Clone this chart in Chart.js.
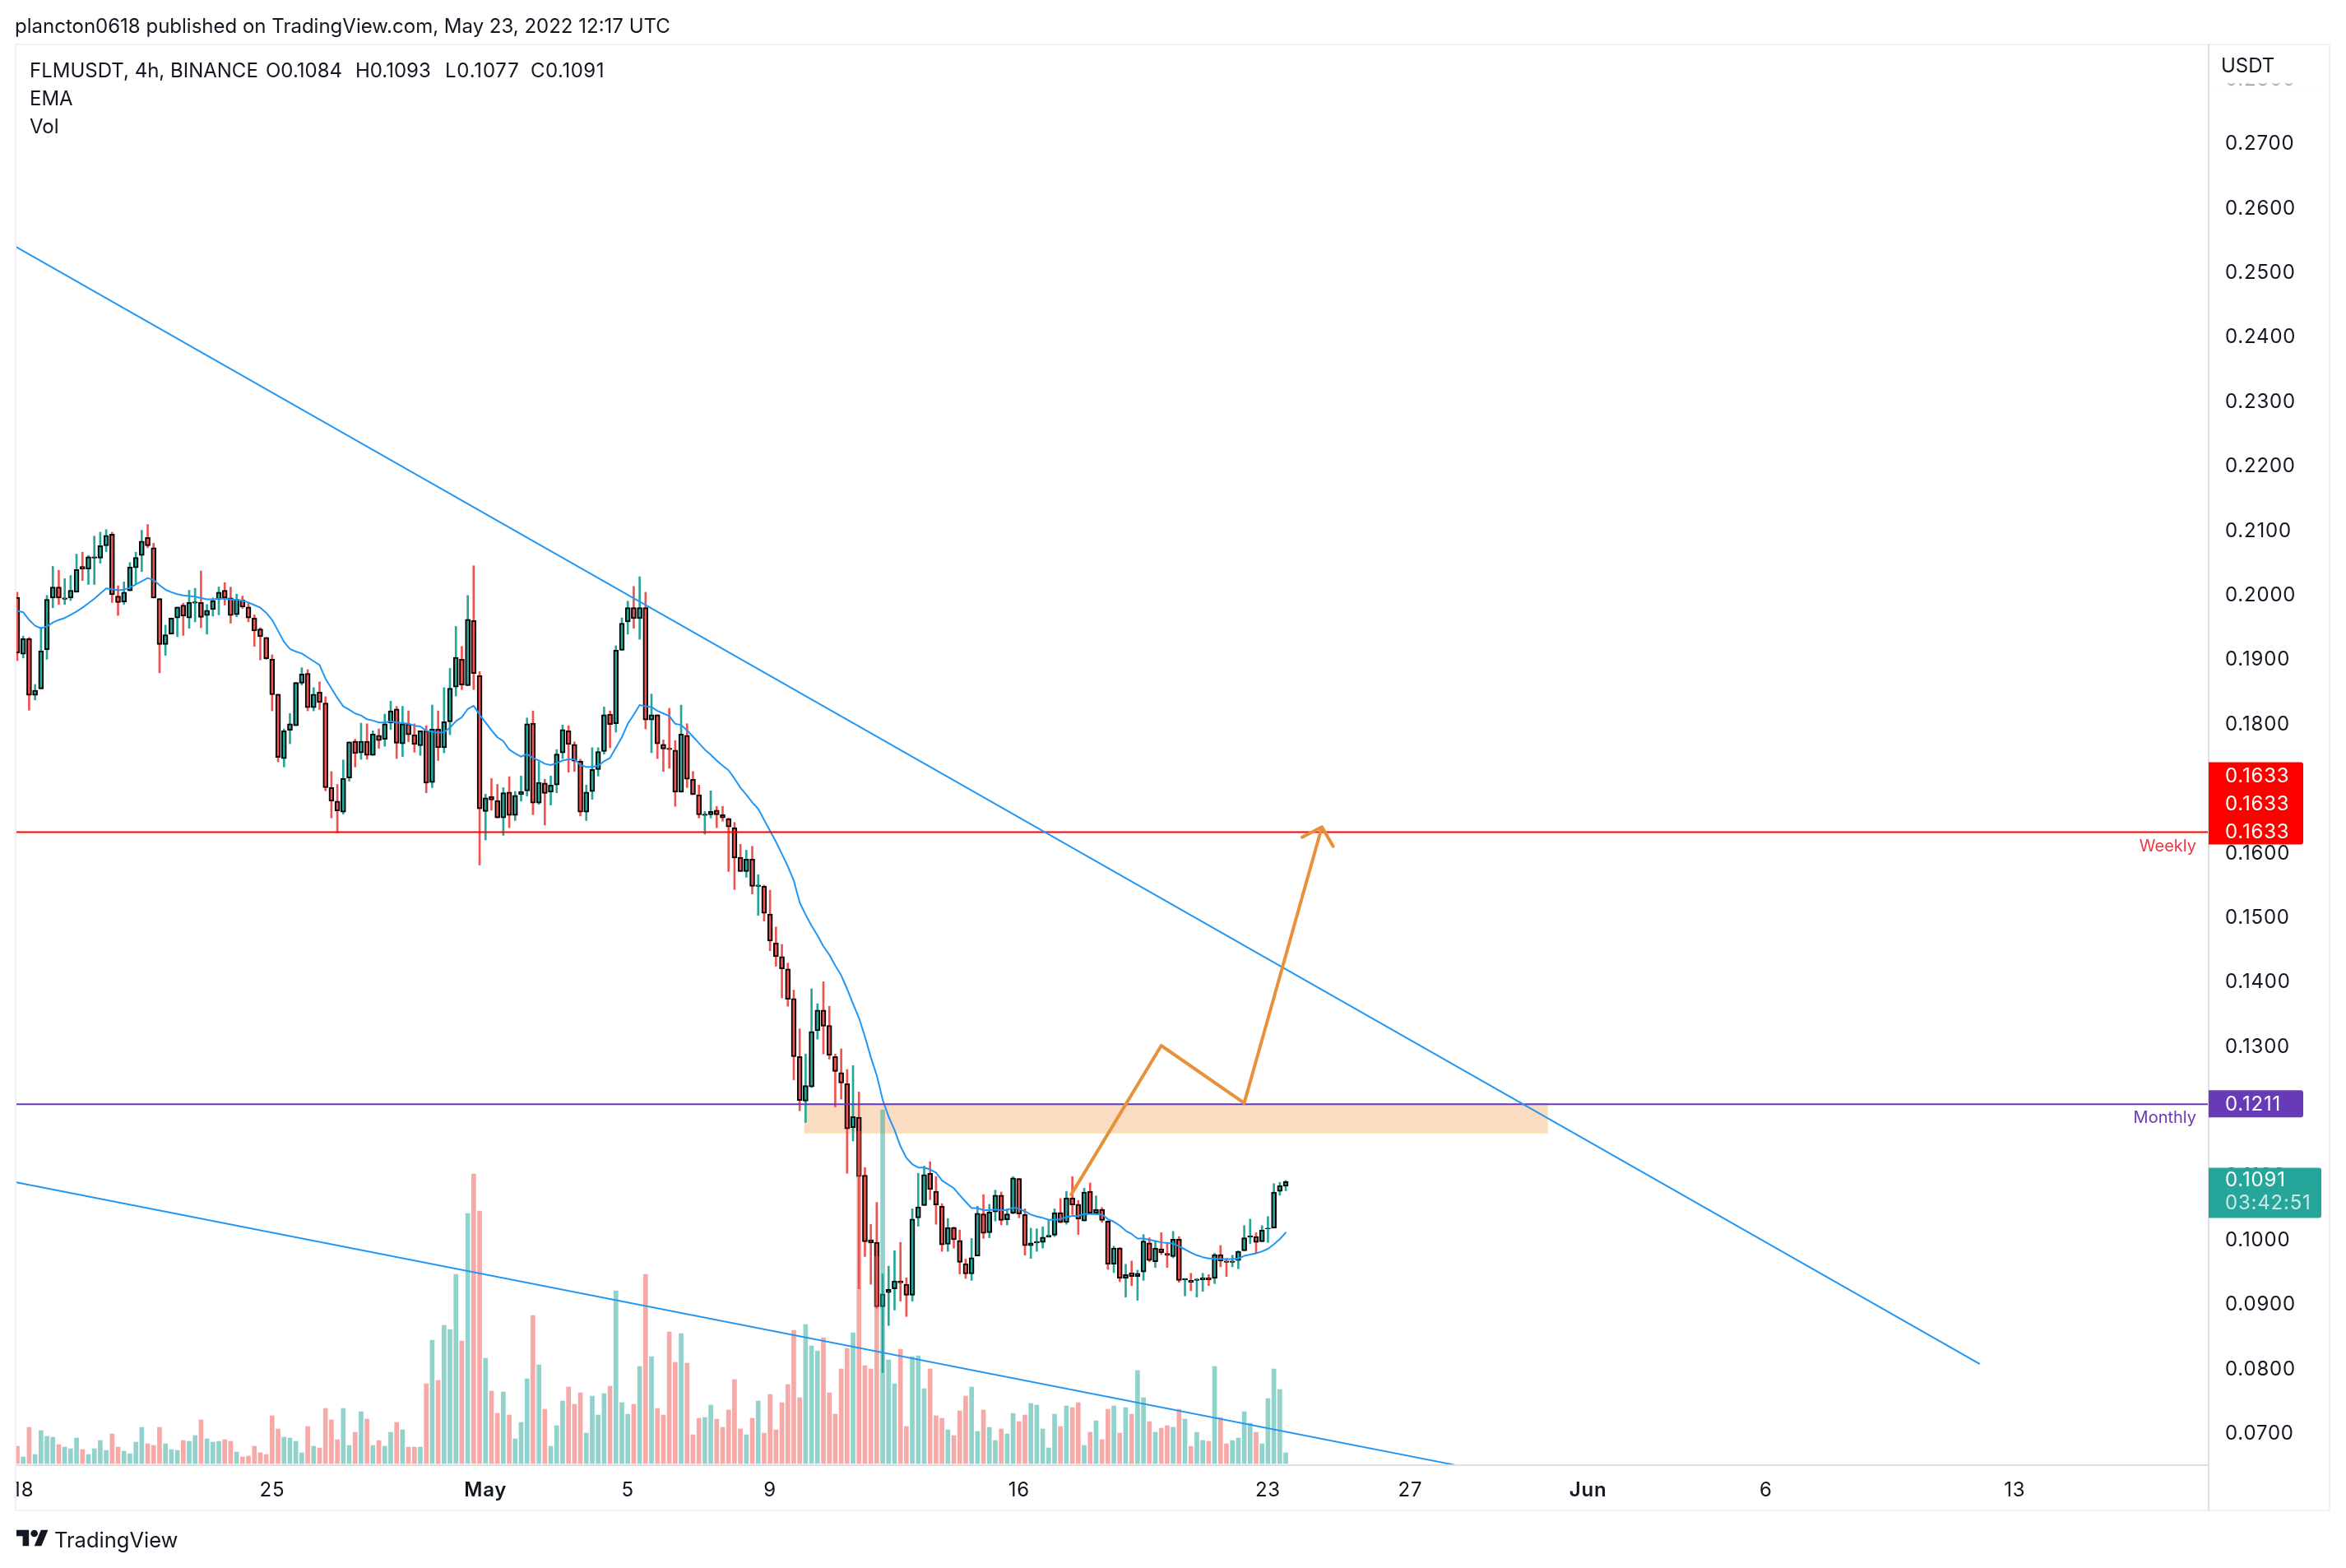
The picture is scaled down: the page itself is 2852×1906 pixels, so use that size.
<!DOCTYPE html>
<html>
<head>
<meta charset="utf-8">
<title>FLMUSDT 4h</title>
<script src="https://cdn.jsdelivr.net/npm/chart.js@4"></script>
<style>
  html, body { margin: 0; padding: 0; background: #fff; }
  #wrap { position: relative; width: 2852px; height: 1906px; overflow: hidden; color: #131722; font-family: Inter, sans-serif; font-size: 24px; }
  #wrap canvas { position: absolute; left: 0; top: 0; }
  .txt { position: absolute; white-space: pre; line-height: 30px; }
</style>
</head>
<body>
<div id="wrap">
  <canvas id="flmChart" width="2852" height="1906"></canvas>
  <div class="txt" style="left:18px;top:17px">plancton0618 published on TradingView.com, May 23, 2022 12:17 UTC</div>
  <div class="txt" style="left:36px;top:71px">FLMUSDT, 4h, BINANCE</div>
  <div class="txt" style="left:323px;top:71px">O0.1084</div>
  <div class="txt" style="left:432px;top:71px">H0.1093</div>
  <div class="txt" style="left:541px;top:71px;letter-spacing:0.8px">L0.1077</div>
  <div class="txt" style="left:645px;top:71px;letter-spacing:0.5px">C0.1091</div>
  <div class="txt" style="left:36px;top:105px">EMA</div>
  <div class="txt" style="left:36px;top:139px">Vol</div>
  <svg style="position:absolute;left:20px;top:1855px" width="39" height="31" viewBox="0 0 36 28" fill="#131722">
    <path d="M14 22H7V11H0V4h14v18zM28 22h-8l7.5-18h8L28 22z"></path><circle cx="20" cy="8" r="4"></circle>
  </svg>
  <div class="txt" style="left:66px;top:1857px;font-size:25.5px">TradingView</div>
</div>
<script>
// Candles, one entry per 4h bar
const open = [
  0.1997,0.1909,0.1933,0.1845,0.1855,0.1916,0.1996,0.2013,0.1994,0.1996,
  0.2005,0.2045,0.2041,0.2058,0.2058,0.2077,0.2095,0.1999,0.1990,0.2007,
  0.2043,0.2062,0.2090,0.2074,0.1995,0.1924,0.1940,0.1965,0.1985,0.1965,
  0.1988,0.1989,0.1969,0.1978,0.1994,0.2008,0.1996,0.1970,0.1993,0.1982,
  0.1965,0.1948,0.1935,0.1901,0.1847,0.1747,0.1791,0.1798,0.1864,0.1879,
  0.1826,0.1850,0.1833,0.1702,0.1681,0.1664,0.1717,0.1774,0.1756,0.1774,
  0.1752,0.1783,0.1777,0.1802,0.1824,0.1770,0.1801,0.1784,0.1767,0.1790,
  0.1710,0.1793,0.1764,0.1804,0.1858,0.1901,0.1860,0.1961,0.1876,0.1665,
  0.1688,0.1682,0.1655,0.1695,0.1659,0.1691,0.1697,0.1802,0.1678,0.1709,
  0.1695,0.1706,0.1756,0.1790,0.1769,0.1743,0.1664,0.1696,0.1730,0.1758,
  0.1816,0.1801,0.1915,0.1959,0.1981,0.1964,0.1981,0.1807,0.1815,0.1769,
  0.1763,0.1760,0.1695,0.1783,0.1715,0.1691,0.1659,0.1660,0.1667,0.1660,
  0.1654,0.1640,0.1594,0.1572,0.1591,0.1549,0.1549,0.1506,0.1461,0.1440,
  0.1421,0.1375,0.1285,0.1216,0.1238,0.1325,0.1357,0.1333,0.1285,0.1260,
  0.1243,0.1175,0.1191,0.1101,0.1001,0.0997,0.0897,0.0919,0.0925,0.0937,
  0.0932,0.0915,0.1035,0.1054,0.1104,0.1076,0.1053,0.0994,0.1020,0.1000,
  0.0964,0.0948,0.0976,0.1041,0.1012,0.1044,0.1070,0.1032,0.1042,0.1096,
  0.1040,0.0992,0.0996,0.0997,0.1005,0.1008,0.1043,0.1028,0.1066,0.1056,
  0.1030,0.1076,0.1042,0.1048,0.1030,0.0963,0.0988,0.0941,0.0950,0.0944,
  0.0951,0.0996,0.0967,0.0987,0.0980,0.0975,0.1002,0.0939,0.0938,0.0938,
  0.0939,0.0942,0.0941,0.0978,0.0968,0.0966,0.0969,0.0984,0.1005,0.1006,
  0.0998,0.1018,0.1019,0.1076,0.1084
];
const high = [
  0.2005,0.1937,0.1935,0.1862,0.1951,0.2000,0.2045,0.2039,0.2026,0.2031,
  0.2064,0.2067,0.2062,0.2092,0.2098,0.2102,0.2098,0.2015,0.2021,0.2051,
  0.2067,0.2101,0.2110,0.2081,0.1995,0.1954,0.1965,0.1982,0.1988,0.2008,
  0.2011,0.2038,0.1986,0.1996,0.2013,0.2020,0.2013,0.2002,0.1999,0.1989,
  0.1970,0.1950,0.1935,0.1908,0.1847,0.1793,0.1817,0.1865,0.1888,0.1885,
  0.1857,0.1866,0.1843,0.1727,0.1707,0.1745,0.1773,0.1777,0.1802,0.1801,
  0.1790,0.1793,0.1816,0.1836,0.1828,0.1828,0.1821,0.1801,0.1790,0.1798,
  0.1830,0.1821,0.1857,0.1887,0.1952,0.1921,0.2000,0.2046,0.1882,0.1692,
  0.1716,0.1707,0.1702,0.1719,0.1696,0.1720,0.1810,0.1821,0.1742,0.1715,
  0.1720,0.1761,0.1799,0.1798,0.1773,0.1746,0.1706,0.1764,0.1764,0.1827,
  0.1821,0.1922,0.1965,0.1991,0.2014,0.2029,0.2005,0.1847,0.1815,0.1776,
  0.1825,0.1775,0.1830,0.1801,0.1727,0.1706,0.1665,0.1697,0.1673,0.1673,
  0.1655,0.1648,0.1614,0.1605,0.1611,0.1567,0.1551,0.1543,0.1486,0.1459,
  0.1430,0.1388,0.1328,0.1289,0.1390,0.1367,0.1401,0.1363,0.1289,0.1297,
  0.1265,0.1271,0.1230,0.1113,0.1025,0.1059,0.0948,0.0960,0.0984,0.0997,
  0.0942,0.1049,0.1104,0.1115,0.1122,0.1099,0.1057,0.1034,0.1021,0.1016,
  0.0971,0.1003,0.1053,0.1071,0.1056,0.1078,0.1075,0.1049,0.1099,0.1096,
  0.1049,0.1019,0.1018,0.1021,0.1031,0.1049,0.1065,0.1076,0.1099,0.1062,
  0.1081,0.1089,0.1069,0.1051,0.1031,0.0991,0.0989,0.0963,0.0968,0.0954,
  0.1009,0.1004,0.0998,0.1012,0.0997,0.1014,0.1006,0.0941,0.0949,0.0941,
  0.0949,0.0947,0.0980,0.0992,0.0972,0.0977,0.0984,0.1023,0.1033,0.1012,
  0.1023,0.1037,0.1088,0.1090,0.1093
];
const low = [
  0.1899,0.1903,0.1822,0.1838,0.1855,0.1901,0.1981,0.1986,0.1986,0.1992,
  0.2005,0.2023,0.2017,0.2017,0.2050,0.2068,0.1989,0.1969,0.1986,0.2007,
  0.2018,0.2037,0.2074,0.1996,0.1880,0.1907,0.1940,0.1936,0.1938,0.1949,
  0.1959,0.1950,0.1940,0.1968,0.1970,0.1985,0.1957,0.1967,0.1980,0.1959,
  0.1921,0.1900,0.1901,0.1821,0.1742,0.1734,0.1770,0.1798,0.1861,0.1821,
  0.1821,0.1823,0.1697,0.1655,0.1632,0.1661,0.1712,0.1734,0.1746,0.1746,
  0.1752,0.1763,0.1766,0.1792,0.1747,0.1750,0.1773,0.1757,0.1752,0.1694,
  0.1702,0.1744,0.1756,0.1784,0.1844,0.1854,0.1860,0.1854,0.1582,0.1621,
  0.1667,0.1655,0.1628,0.1640,0.1651,0.1681,0.1689,0.1660,0.1676,0.1644,
  0.1675,0.1694,0.1747,0.1726,0.1727,0.1658,0.1651,0.1684,0.1720,0.1754,
  0.1764,0.1788,0.1915,0.1940,0.1949,0.1932,0.1793,0.1756,0.1747,0.1727,
  0.1732,0.1673,0.1695,0.1702,0.1691,0.1655,0.1630,0.1655,0.1640,0.1650,
  0.1572,0.1544,0.1572,0.1563,0.1537,0.1504,0.1495,0.1449,0.1425,0.1376,
  0.1363,0.1249,0.1201,0.1183,0.1237,0.1312,0.1289,0.1281,0.1207,0.1219,
  0.1104,0.1154,0.0925,0.0975,0.0932,0.0895,0.0795,0.0868,0.0892,0.0906,
  0.0882,0.0906,0.1022,0.1054,0.1063,0.1025,0.0983,0.0983,0.0988,0.0948,
  0.0941,0.0938,0.0976,0.1003,0.1004,0.1030,0.1024,0.1024,0.1041,0.1035,
  0.0977,0.0972,0.0983,0.0988,0.1005,0.1006,0.1027,0.1025,0.1040,0.1009,
  0.1030,0.1042,0.1040,0.1028,0.0955,0.0950,0.0936,0.0912,0.0930,0.0907,
  0.0938,0.0967,0.0958,0.0978,0.0958,0.0973,0.0935,0.0914,0.0922,0.0912,
  0.0921,0.0930,0.0933,0.0959,0.0944,0.0959,0.0956,0.0984,0.0995,0.0981,
  0.0998,0.0997,0.1019,0.1070,0.1077
];
const close = [
  0.1911,0.1933,0.1845,0.1853,0.1914,0.1994,0.2013,0.1996,0.1996,0.2008,
  0.2040,0.2041,0.2060,0.2060,0.2077,0.2093,0.2001,0.1989,0.2005,0.2044,
  0.2059,0.2084,0.2077,0.1996,0.1924,0.1939,0.1965,0.1982,0.1968,0.1989,
  0.1990,0.1966,0.1977,0.1992,0.2005,0.1996,0.1969,0.1994,0.1982,0.1965,
  0.1945,0.1936,0.1902,0.1846,0.1749,0.1790,0.1801,0.1865,0.1878,0.1826,
  0.1847,0.1834,0.1702,0.1681,0.1666,0.1716,0.1773,0.1755,0.1774,0.1752,
  0.1785,0.1775,0.1801,0.1821,0.1771,0.1801,0.1784,0.1769,0.1790,0.1709,
  0.1793,0.1764,0.1804,0.1856,0.1904,0.1861,0.1963,0.1879,0.1669,0.1686,
  0.1683,0.1655,0.1694,0.1659,0.1690,0.1696,0.1801,0.1678,0.1710,0.1693,
  0.1706,0.1754,0.1792,0.1769,0.1743,0.1664,0.1695,0.1730,0.1758,0.1815,
  0.1800,0.1915,0.1957,0.1981,0.1964,0.1981,0.1807,0.1815,0.1770,0.1762,
  0.1761,0.1695,0.1785,0.1715,0.1691,0.1660,0.1661,0.1665,0.1660,0.1655,
  0.1641,0.1593,0.1572,0.1591,0.1549,0.1551,0.1507,0.1464,0.1440,0.1421,
  0.1374,0.1285,0.1217,0.1240,0.1324,0.1357,0.1332,0.1287,0.1262,0.1244,
  0.1173,0.1192,0.1099,0.0998,0.0996,0.0897,0.0917,0.0924,0.0937,0.0934,
  0.0915,0.1033,0.1052,0.1102,0.1079,0.1055,0.0993,0.1020,0.1001,0.0966,
  0.0948,0.0973,0.1042,0.1011,0.1044,0.1070,0.1031,0.1041,0.1097,0.1041,
  0.0992,0.0996,0.0998,0.1005,0.1008,0.1043,0.1028,0.1066,0.1055,0.1033,
  0.1075,0.1042,0.1048,0.1031,0.0963,0.0988,0.0941,0.0947,0.0944,0.0949,
  0.0999,0.0969,0.0988,0.0981,0.0977,0.1002,0.0938,0.0941,0.0935,0.0940,
  0.0942,0.0939,0.0978,0.0968,0.0966,0.0968,0.0983,0.1004,0.1007,0.0997,
  0.1016,0.1019,0.1075,0.1085,0.1091
];
const emaValues = [
  0.1976,0.1974,0.1962,0.1953,0.1949,0.1952,0.1958,0.1962,0.1965,0.1970,
  0.1975,0.1981,0.1988,0.1995,0.2003,0.2011,0.2010,0.2008,0.2009,0.2012,
  0.2017,0.2022,0.2027,0.2024,0.2016,0.2009,0.2005,0.2002,0.2000,0.1999,
  0.1998,0.1996,0.1994,0.1994,0.1995,0.1995,0.1994,0.1993,0.1992,0.1989,
  0.1985,0.1981,0.1973,0.1962,0.1945,0.1928,0.1917,0.1913,0.1910,0.1904,
  0.1898,0.1892,0.1871,0.1856,0.1841,0.1828,0.1823,0.1817,0.1814,0.1808,
  0.1806,0.1803,0.1803,0.1805,0.1803,0.1802,0.1801,0.1798,0.1797,0.1790,
  0.1789,0.1787,0.1788,0.1795,0.1805,0.1811,0.1824,0.1829,0.1815,0.1803,
  0.1791,0.1780,0.1774,0.1761,0.1755,0.1750,0.1754,0.1748,0.1744,0.1739,
  0.1737,0.1740,0.1744,0.1746,0.1746,0.1737,0.1734,0.1734,0.1736,0.1743,
  0.1748,0.1764,0.1780,0.1801,0.1815,0.1830,0.1828,0.1827,0.1821,0.1817,
  0.1813,0.1801,0.1799,0.1791,0.1781,0.1771,0.1761,0.1753,0.1744,0.1736,
  0.1729,0.1716,0.1702,0.1691,0.1679,0.1669,0.1652,0.1635,0.1618,0.1599,
  0.1580,0.1558,0.1524,0.1505,0.1488,0.1473,0.1456,0.1443,0.1426,0.1411,
  0.1390,0.1367,0.1345,0.1316,0.1284,0.1256,0.1218,0.1192,0.1171,0.1146,
  0.1128,0.1118,0.1113,0.1113,0.1110,0.1105,0.1093,0.1087,0.1081,0.1070,
  0.1060,0.1050,0.1050,0.1047,0.1047,0.1048,0.1047,0.1047,0.1051,0.1049,
  0.1045,0.1040,0.1037,0.1035,0.1032,0.1032,0.1033,0.1036,0.1038,0.1038,
  0.1041,0.1041,0.1041,0.1040,0.1033,0.1029,0.1023,0.1015,0.1010,0.1003,
  0.1003,0.1001,0.0999,0.0997,0.0996,0.0995,0.0991,0.0986,0.0981,0.0977,
  0.0974,0.0972,0.0972,0.0971,0.0971,0.0971,0.0972,0.0976,0.0978,0.0980,
  0.0983,0.0987,0.0994,0.1002,0.1012
];
const volume = [
  63,24,132,33,120,99,96,69,60,54,93,51,33,54,84,48,108,60,45,36,
  78,132,72,66,132,72,51,48,84,81,102,159,90,78,81,87,81,42,24,27,
  63,39,33,174,126,96,93,81,39,135,63,57,201,159,87,201,66,114,189,162,
  66,84,63,114,150,123,60,60,60,291,450,303,504,489,690,447,912,1056,921,384,
  264,183,261,177,90,150,309,540,360,198,63,138,228,279,216,258,111,246,177,255,
  282,630,222,180,216,354,690,390,201,177,480,369,474,366,105,165,168,213,162,132,
  195,306,126,105,165,228,111,252,123,222,288,486,240,507,429,411,459,258,180,345,
  420,477,1212,357,345,756,1290,378,291,417,135,390,393,273,345,174,165,123,102,192,
  246,279,117,195,132,84,126,108,183,153,177,219,213,126,57,180,135,210,204,222,
  66,114,156,87,198,210,111,204,180,339,240,153,114,129,138,132,198,162,63,114,
  84,81,354,168,72,84,93,189,147,114,72,237,345,270,39
];

// Axes
const priceTicks = [0.07,0.08,0.09,0.10,0.11,0.12,0.13,0.14,0.15,0.16,0.17,0.18,0.19,0.20,0.21,0.22,0.23,0.24,0.25,0.26,0.27,0.28];
const timeTickBars = [1,43,79,103,127,169,211,235,265,295,337];
const timeTickLabels = ['18','25','May','5','9','16','23','27','Jun','6','13'];
const boldTimeLabels = ['May','Jun'];

// Drawings on the chart, x in bar numbers and y in price
const weeklyLevel = 0.1633;
const monthlyLevel = 0.1211;
const lastPrice = 0.1091;
const upperTrendBars = [-0.14, 331];
const upperTrendPrices = [0.2540, 0.0809];
const lowerTrendBars = [-0.14, 243];
const lowerTrendPrices = [0.1090, 0.0651];
const arrowBars = [177.8, 193, 207, 220.1, 216.75, 220.1, 222];
const arrowPrices = [0.1071, 0.1302, 0.1213, 0.1641, 0.1625, 0.1641, 0.1611];
const zoneBars = [132.9, 258.1];
const zonePrices = [0.1211, 0.1167];

const upColor = '#26a69a';
const downColor = '#ef5350';
const blue = '#2196f3';
const red = '#ff0000';
const purple = '#673ab7';
const orange = '#e8913a';
const textColor = '#131722';
const frameColor = '#f0f0f5';
const axisColor = '#e0e0e3';
const fontFamily = 'Inter, sans-serif';

const xMin = -0.139;
const xMax = 369.7;
const isUp = i => close[i] >= open[i];
const pairs = (xs, ys) => xs.map((x, i) => ({ x: x, y: ys[i] }));

const wickData = open.map((_, i) => ({ x: i, y: [low[i], high[i]] }));
const bodyData = open.map((_, i) => ({ x: i, y: [open[i], close[i]] }));
const volumeData = volume.map((v, i) => ({ x: i, y: v }));
const emaData = emaValues.map((v, i) => ({ x: i, y: v }));

function lineSet(data, color, width, order) {
  return { type: 'line', data: data, borderColor: color, borderWidth: width, pointRadius: 0, tension: 0, fill: false, order: order, yAxisID: 'y', borderJoinStyle: 'round', borderCapStyle: 'round' };
}

function priceTag(ctx, left, right, top, bottom, color) {
  ctx.fillStyle = color;
  ctx.beginPath();
  ctx.roundRect(left, top, right - left, bottom - top, [0, 3, 3, 0]);
  ctx.fill();
}

const chartDecor = {
  id: 'chartDecor',
  beforeDraw(chart) {
    // TradingView's axis digits run wider than plain Inter
    chart.ctx.letterSpacing = '0.8px';
  },
  beforeDatasetsDraw(chart) {
    const { ctx, scales: { x, y } } = chart;
    const left = x.getPixelForValue(zoneBars[0]);
    const right = x.getPixelForValue(zoneBars[1]);
    const top = y.getPixelForValue(zonePrices[0]);
    const bottom = y.getPixelForValue(zonePrices[1]);
    ctx.save();
    ctx.fillStyle = '#f9dcc1';
    ctx.strokeStyle = '#ffe0ac';
    ctx.lineWidth = 2;
    ctx.fillRect(left, top, right - left, bottom - top);
    ctx.strokeRect(left, top, right - left, bottom - top);
    ctx.restore();
  },
  afterDraw(chart) {
    const { ctx, chartArea: area, scales: { y } } = chart;
    const tagLeft = area.right;
    const tagRight = area.right + 115;
    const textX = area.right + 20;
    const frameBottom = 1836;
    const frameRight = 2832;
    ctx.save();

    // hide what hangs outside the plot, then the frame
    ctx.fillStyle = '#fff';
    ctx.fillRect(0, area.bottom, area.left - 1, frameBottom - area.bottom);
    ctx.strokeStyle = frameColor;
    ctx.lineWidth = 2;
    ctx.strokeRect(area.left - 1, area.top, frameRight - area.left + 1, frameBottom - area.top);
    ctx.strokeStyle = axisColor;
    ctx.beginPath();
    ctx.moveTo(area.right, area.top);
    ctx.lineTo(area.right, frameBottom);
    ctx.moveTo(area.left, area.bottom);
    ctx.lineTo(area.right, area.bottom);
    ctx.stroke();

    // top of the price scale fades under the unit label
    const fade = ctx.createLinearGradient(0, 100, 0, 108);
    fade.addColorStop(0, 'rgba(255,255,255,1)');
    fade.addColorStop(1, 'rgba(255,255,255,0)');
    ctx.fillStyle = '#fff';
    ctx.fillRect(area.right + 2, area.top + 2, 140, 44);
    ctx.fillStyle = fade;
    ctx.fillRect(area.right + 2, 100, 140, 8);

    ctx.font = '24px ' + fontFamily;
    ctx.textBaseline = 'middle';
    ctx.textAlign = 'left';
    ctx.fillStyle = textColor;
    ctx.letterSpacing = '0px';
    ctx.fillText('USDT', area.right + 15, 81);
    ctx.letterSpacing = '0.8px';

    // level tags
    const weeklyY = y.getPixelForValue(weeklyLevel);
    priceTag(ctx, tagLeft, tagRight, weeklyY - 85, weeklyY + 15, red);
    ctx.fillStyle = '#fff';
    [weeklyY - 68, weeklyY - 34, weeklyY].forEach(py => ctx.fillText(weeklyLevel.toFixed(4), textX, py));

    const monthlyY = y.getPixelForValue(monthlyLevel);
    priceTag(ctx, tagLeft, tagRight, monthlyY - 17, monthlyY + 16, purple);
    ctx.fillStyle = '#fff';
    ctx.fillText(monthlyLevel.toFixed(4), textX, monthlyY);

    const lastY = y.getPixelForValue(lastPrice);
    priceTag(ctx, tagLeft, tagRight + 22, lastY - 17, lastY + 44, upColor);
    ctx.fillStyle = '#fff';
    ctx.fillText(lastPrice.toFixed(4), textX, lastY - 2);
    ctx.fillStyle = 'rgba(255,255,255,0.75)';
    ctx.fillText('03:42:51', textX, lastY + 26);

    ctx.font = '20px ' + fontFamily;
    ctx.textAlign = 'right';
    ctx.letterSpacing = '0px';
    ctx.fillStyle = '#f23645';
    ctx.fillText('Weekly', area.right - 15, weeklyY + 17);
    ctx.fillStyle = purple;
    ctx.fillText('Monthly', area.right - 15, monthlyY + 17);
    ctx.restore();
  }
};

new Chart(document.getElementById('flmChart'), {
  data: {
    datasets: [
      { type: 'bar', label: 'Wick', data: wickData, grouped: false, barThickness: 2, order: 9, yAxisID: 'y', borderWidth: 0,
        backgroundColor: wickData.map((_, i) => isUp(i) ? upColor : downColor) },
      { type: 'bar', label: 'FLMUSDT', data: bodyData, grouped: false, barThickness: 6, order: 8, yAxisID: 'y',
        borderWidth: 2, borderColor: '#000', borderSkipped: false,
        backgroundColor: bodyData.map((_, i) => isUp(i) ? upColor : downColor) },
      { type: 'bar', label: 'Vol', data: volumeData, grouped: false, barThickness: 5, order: 7, yAxisID: 'vol', borderWidth: 0,
        backgroundColor: volumeData.map((_, i) => isUp(i) ? 'rgba(38,166,154,0.5)' : 'rgba(239,83,80,0.5)') },
      lineSet(emaData, blue, 2, 6),
      lineSet(pairs([xMin, xMax], [weeklyLevel, weeklyLevel]), red, 2, 5),
      lineSet(pairs([xMin, xMax], [monthlyLevel, monthlyLevel]), purple, 2, 5),
      lineSet(pairs(upperTrendBars, upperTrendPrices), blue, 2, 4),
      lineSet(pairs(lowerTrendBars, lowerTrendPrices), blue, 2, 4),
      lineSet(pairs(arrowBars, arrowPrices), orange, 4, 3)
    ]
  },
  options: {
    responsive: false,
    devicePixelRatio: 1,
    animation: false,
    layout: { padding: { left: 20, right: 20, top: 54, bottom: 70 } },
    plugins: { legend: { display: false }, tooltip: { enabled: false } },
    scales: {
      x: {
        type: 'linear',
        offset: false,
        min: xMin,
        max: xMax,
        grid: { display: false },
        border: { display: false },
        afterBuildTicks(scale) { scale.ticks = timeTickBars.map(v => ({ value: v })); },
        afterFit(scale) { scale.height = 55; },
        ticks: {
          autoSkip: false,
          maxRotation: 0,
          padding: 8,
          color: textColor,
          font: c => ({ family: fontFamily, size: 24, weight: boldTimeLabels.includes(timeTickLabels[timeTickBars.indexOf(c.tick && c.tick.value)]) ? '600' : '400' }),
          callback: v => timeTickLabels[timeTickBars.indexOf(v)]
        }
      },
      y: {
        position: 'right',
        min: 0.06515,
        max: 0.28543,
        grid: { display: false },
        border: { display: false },
        afterBuildTicks(scale) { scale.ticks = priceTicks.map(v => ({ value: v })); },
        afterFit(scale) { scale.width = 147; },
        ticks: {
          autoSkip: false,
          padding: 12,
          crossAlign: 'near',
          color: textColor,
          font: { family: fontFamily, size: 24 },
          callback: v => v.toFixed(4)
        }
      },
      vol: { display: false, min: -6, max: 5175 }
    }
  },
  plugins: [chartDecor]
});
</script>
</body>
</html>
